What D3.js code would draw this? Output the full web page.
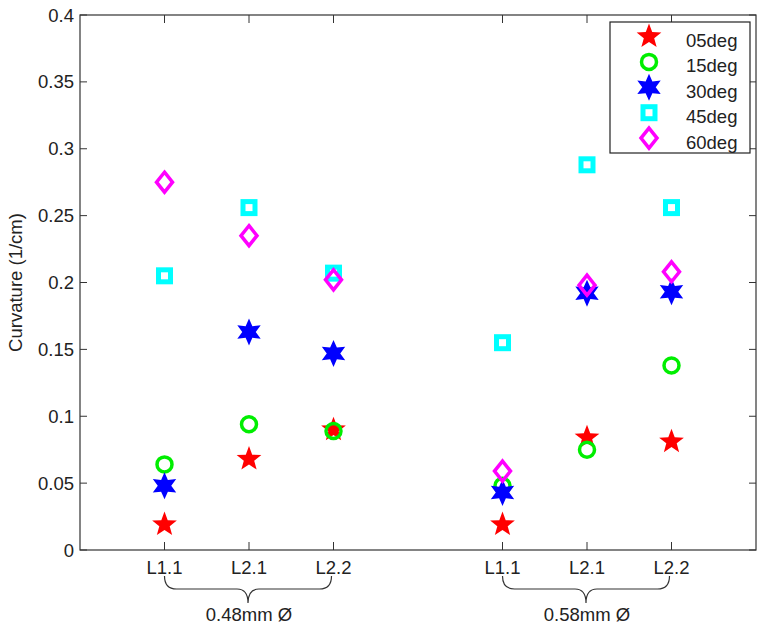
<!DOCTYPE html>
<html>
<head>
<meta charset="utf-8">
<script src="https://cdn.jsdelivr.net/npm/d3@7"></script>
<style>
  body { margin: 0; background: #fff; }
  text { font-family: "Liberation Sans", Arial, sans-serif; fill: #222; }
</style>
</head>
<body>
<svg width="765" height="629"></svg>
<script>
// data
var sites = ["L1.1", "L2.1", "L2.2", "L1.1", "L2.1", "L2.2"];
var sitePos = [1, 2, 3, 5, 6, 7];
var groups = ["0.48mm Ø", "0.58mm Ø"];
var groupSpan = [[1, 3], [5, 7]];
var angles = ["05deg", "15deg", "30deg", "45deg", "60deg"];
var deg05 = [0.019, 0.068, 0.090, 0.019, 0.084, 0.081];
var deg15 = [0.064, 0.094, 0.089, 0.048, 0.075, 0.138];
var deg30 = [0.048, 0.163, 0.147, 0.043, 0.192, 0.193];
var deg45 = [0.205, 0.256, 0.207, 0.155, 0.288, 0.256];
var deg60 = [0.275, 0.235, 0.202, 0.059, 0.198, 0.208];
var yTicks = [0, 0.05, 0.1, 0.15, 0.2, 0.25, 0.3, 0.35, 0.4];

var series = [deg05, deg15, deg30, deg45, deg60];
var colors = ["#ff0000", "#00ee00", "#0000ff", "#00ffff", "#ff00ff"];

var svg = d3.select("svg");
var L = 80, R = 756, T = 15, B = 550;
var x = d3.scaleLinear().domain([0, 8]).range([L, R]);
var y = d3.scaleLinear().domain([0, 0.4]).range([B, T]);

//marker shapes
function starPath(r, n, inner) {
  var p = [];
  for (var i = 0; i < n * 2; i++) {
    var a = Math.PI * i / n - Math.PI / 2;
    var rr = i % 2 ? r * inner : r;
    p.push([rr * Math.cos(a), rr * Math.sin(a)]);
  }
  return "M" + p.join("L") + "Z";
}
function marker(g, k) {
  var c = colors[k];
  if (k == 0) g.append("path").attr("d", starPath(13, 5, 0.42)).attr("fill", c);
  if (k == 1) g.append("circle").attr("r", 7.5).attr("fill", "none").attr("stroke", c).attr("stroke-width", 3.5);
  if (k == 2) g.append("path").attr("d", starPath(13.5, 6, 0.5)).attr("fill", c);
  if (k == 3) g.append("rect").attr("x", -6).attr("y", -6).attr("width", 12).attr("height", 12)
    .attr("fill", "none").attr("stroke", c).attr("stroke-width", 5);
  if (k == 4) g.append("path").attr("d", "M0,-10L8,0L0,10L-8,0Z")
    .attr("fill", "none").attr("stroke", c).attr("stroke-width", 3.5);
}

// frame
svg.append("rect").attr("x", L).attr("y", T).attr("width", R - L).attr("height", B - T)
  .attr("fill", "none").attr("stroke", "#333").attr("stroke-width", 1.2);

// y ticks inward, both sides
yTicks.forEach(function(t) {
  svg.append("line").attr("x1", L).attr("x2", L + 7).attr("y1", y(t)).attr("y2", y(t)).attr("stroke", "#333");
  svg.append("line").attr("x1", R).attr("x2", R - 7).attr("y1", y(t)).attr("y2", y(t)).attr("stroke", "#333");
  svg.append("text").attr("x", 74).attr("y", y(t) + 6.5).attr("text-anchor", "end")
    .style("font-size", "18.5px").text(t);
});

// x ticks
sitePos.forEach(function(p, i) {
  svg.append("line").attr("x1", x(p)).attr("x2", x(p)).attr("y1", B).attr("y2", B - 8).attr("stroke", "#333");
  svg.append("line").attr("x1", x(p)).attr("x2", x(p)).attr("y1", T).attr("y2", T + 8).attr("stroke", "#333");
  svg.append("text").attr("x", x(p)).attr("y", 573.5).attr("text-anchor", "middle")
    .style("font-size", "18.5px").text(sites[i]);
});

// braces + group labels
groupSpan.forEach(function(s, i) {
  var x0 = x(s[0]), x1 = x(s[1]) - 2, m = (x0 + x1) / 2;
  var d = "M" + x0 + ",576 Q" + x0 + ",589 " + (x0 + 12) + ",589 L" + (m - 11) + ",589 Q" + m + ",589 " + m + ",603" +
    " Q" + m + ",589 " + (m + 11) + ",589 L" + (x1 - 12) + ",589 Q" + x1 + ",589 " + x1 + ",576";
  svg.append("path").attr("d", d).attr("fill", "none").attr("stroke", "#333").attr("stroke-width", 1.2);
  svg.append("text").attr("x", x((s[0] + s[1]) / 2)).attr("y", 620.5).attr("text-anchor", "middle")
    .style("font-size", "18.5px").text(groups[i]);
});

// y label
svg.append("text").attr("transform", "translate(22," + ((T + B) / 2) + ") rotate(-90)")
  .attr("text-anchor", "middle").style("font-size", "18.5px").text("Curvature (1/cm)");

// points
series.forEach(function(vals, k) {
  vals.forEach(function(v, i) {
    var g = svg.append("g").attr("transform", "translate(" + x(sitePos[i]) + "," + y(v) + ")");
    marker(g, k);
  });
});

// legend
var lg = svg.append("g");
lg.append("rect").attr("x", 610).attr("y", 22).attr("width", 140).attr("height", 131)
  .attr("fill", "#fff").attr("stroke", "#222").attr("stroke-width", 1.2);
angles.forEach(function(a, k) {
  var yy = 36.5 + k * 25.4;
  var g = lg.append("g").attr("transform", "translate(649," + yy + ")");
  marker(g, k);
  lg.append("text").attr("x", 686).attr("y", yy + 10.5).style("font-size", "18.5px").text(a);
});
</script>
</body>
</html>
